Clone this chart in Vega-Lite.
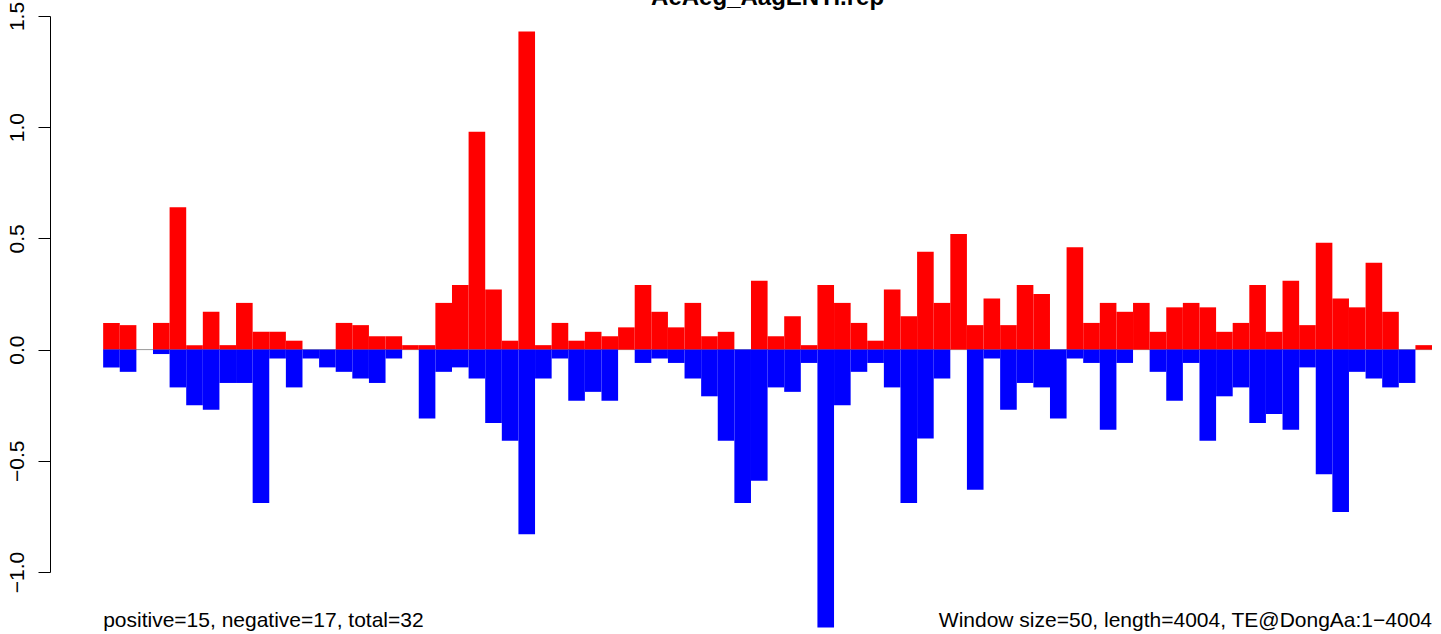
{
  "$schema": "https://vega.github.io/schema/vega-lite/v6.json",
  "autosize": {"type": "none"},
  "padding": {"left": 50, "top": 16, "right": 0, "bottom": 62},
  "width": 1391,
  "height": 556,
  "background": "white",
  "config": {"view": {"stroke": null}},
  "data": {"values": [
    {"start": 0, "end": 50, "pos": 0.12, "neg": -0.08},
    {"start": 50, "end": 100, "pos": 0.11, "neg": -0.10},
    {"start": 100, "end": 150, "pos": 0, "neg": 0},
    {"start": 150, "end": 200, "pos": 0.12, "neg": -0.02},
    {"start": 200, "end": 250, "pos": 0.64, "neg": -0.17},
    {"start": 250, "end": 300, "pos": 0.02, "neg": -0.25},
    {"start": 300, "end": 350, "pos": 0.17, "neg": -0.27},
    {"start": 350, "end": 400, "pos": 0.02, "neg": -0.15},
    {"start": 400, "end": 450, "pos": 0.21, "neg": -0.15},
    {"start": 450, "end": 500, "pos": 0.08, "neg": -0.69},
    {"start": 500, "end": 550, "pos": 0.08, "neg": -0.04},
    {"start": 550, "end": 600, "pos": 0.04, "neg": -0.17},
    {"start": 600, "end": 650, "pos": 0, "neg": -0.04},
    {"start": 650, "end": 700, "pos": 0, "neg": -0.08},
    {"start": 700, "end": 750, "pos": 0.12, "neg": -0.10},
    {"start": 750, "end": 800, "pos": 0.11, "neg": -0.13},
    {"start": 800, "end": 850, "pos": 0.06, "neg": -0.15},
    {"start": 850, "end": 900, "pos": 0.06, "neg": -0.04},
    {"start": 900, "end": 950, "pos": 0.02, "neg": 0},
    {"start": 950, "end": 1000, "pos": 0.02, "neg": -0.31},
    {"start": 1000, "end": 1050, "pos": 0.21, "neg": -0.10},
    {"start": 1050, "end": 1100, "pos": 0.29, "neg": -0.08},
    {"start": 1100, "end": 1150, "pos": 0.98, "neg": -0.13},
    {"start": 1150, "end": 1200, "pos": 0.27, "neg": -0.33},
    {"start": 1200, "end": 1250, "pos": 0.04, "neg": -0.41},
    {"start": 1250, "end": 1300, "pos": 1.43, "neg": -0.83},
    {"start": 1300, "end": 1350, "pos": 0.02, "neg": -0.13},
    {"start": 1350, "end": 1400, "pos": 0.12, "neg": -0.04},
    {"start": 1400, "end": 1450, "pos": 0.04, "neg": -0.23},
    {"start": 1450, "end": 1500, "pos": 0.08, "neg": -0.19},
    {"start": 1500, "end": 1550, "pos": 0.06, "neg": -0.23},
    {"start": 1550, "end": 1600, "pos": 0.10, "neg": 0},
    {"start": 1600, "end": 1650, "pos": 0.29, "neg": -0.06},
    {"start": 1650, "end": 1700, "pos": 0.17, "neg": -0.04},
    {"start": 1700, "end": 1750, "pos": 0.10, "neg": -0.06},
    {"start": 1750, "end": 1800, "pos": 0.21, "neg": -0.13},
    {"start": 1800, "end": 1850, "pos": 0.06, "neg": -0.21},
    {"start": 1850, "end": 1900, "pos": 0.08, "neg": -0.41},
    {"start": 1900, "end": 1950, "pos": 0, "neg": -0.69},
    {"start": 1950, "end": 2000, "pos": 0.31, "neg": -0.59},
    {"start": 2000, "end": 2050, "pos": 0.06, "neg": -0.17},
    {"start": 2050, "end": 2100, "pos": 0.15, "neg": -0.19},
    {"start": 2100, "end": 2150, "pos": 0.02, "neg": -0.06},
    {"start": 2150, "end": 2200, "pos": 0.29, "neg": -1.25},
    {"start": 2200, "end": 2250, "pos": 0.21, "neg": -0.25},
    {"start": 2250, "end": 2300, "pos": 0.12, "neg": -0.10},
    {"start": 2300, "end": 2350, "pos": 0.04, "neg": -0.06},
    {"start": 2350, "end": 2400, "pos": 0.27, "neg": -0.17},
    {"start": 2400, "end": 2450, "pos": 0.15, "neg": -0.69},
    {"start": 2450, "end": 2500, "pos": 0.44, "neg": -0.40},
    {"start": 2500, "end": 2550, "pos": 0.21, "neg": -0.13},
    {"start": 2550, "end": 2600, "pos": 0.52, "neg": 0},
    {"start": 2600, "end": 2650, "pos": 0.11, "neg": -0.63},
    {"start": 2650, "end": 2700, "pos": 0.23, "neg": -0.04},
    {"start": 2700, "end": 2750, "pos": 0.11, "neg": -0.27},
    {"start": 2750, "end": 2800, "pos": 0.29, "neg": -0.15},
    {"start": 2800, "end": 2850, "pos": 0.25, "neg": -0.17},
    {"start": 2850, "end": 2900, "pos": 0, "neg": -0.31},
    {"start": 2900, "end": 2950, "pos": 0.46, "neg": -0.04},
    {"start": 2950, "end": 3000, "pos": 0.12, "neg": -0.06},
    {"start": 3000, "end": 3050, "pos": 0.21, "neg": -0.36},
    {"start": 3050, "end": 3100, "pos": 0.17, "neg": -0.06},
    {"start": 3100, "end": 3150, "pos": 0.21, "neg": 0},
    {"start": 3150, "end": 3200, "pos": 0.08, "neg": -0.10},
    {"start": 3200, "end": 3250, "pos": 0.19, "neg": -0.23},
    {"start": 3250, "end": 3300, "pos": 0.21, "neg": -0.06},
    {"start": 3300, "end": 3350, "pos": 0.19, "neg": -0.41},
    {"start": 3350, "end": 3400, "pos": 0.08, "neg": -0.21},
    {"start": 3400, "end": 3450, "pos": 0.12, "neg": -0.17},
    {"start": 3450, "end": 3500, "pos": 0.29, "neg": -0.33},
    {"start": 3500, "end": 3550, "pos": 0.08, "neg": -0.29},
    {"start": 3550, "end": 3600, "pos": 0.31, "neg": -0.36},
    {"start": 3600, "end": 3650, "pos": 0.11, "neg": -0.08},
    {"start": 3650, "end": 3700, "pos": 0.48, "neg": -0.56},
    {"start": 3700, "end": 3750, "pos": 0.23, "neg": -0.73},
    {"start": 3750, "end": 3800, "pos": 0.19, "neg": -0.10},
    {"start": 3800, "end": 3850, "pos": 0.39, "neg": -0.13},
    {"start": 3850, "end": 3900, "pos": 0.17, "neg": -0.17},
    {"start": 3900, "end": 3950, "pos": 0, "neg": -0.15},
    {"start": 3950, "end": 4000, "pos": 0.02, "neg": 0}
  ]},
  "layer": [
    {
      "mark": {"type": "rule", "color": "#999999", "strokeWidth": 1},
      "encoding": {
        "x": {"aggregate": "min", "field": "start", "type": "quantitative", "scale": {"domain": [-160, 4027], "nice": false, "zero": false, "padding": 0}, "axis": null},
        "x2": {"aggregate": "max", "field": "end"},
        "y": {"datum": 0, "type": "quantitative", "scale": {"domain": [-1, 1.5], "nice": false, "zero": false, "padding": 0},
          "axis": {"orient": "left", "values": [-1, -0.5, 0, 0.5, 1, 1.5], "format": ".1f", "title": null, "grid": false,
            "labelAngle": -90, "labelAlign": "center", "labelBaseline": "alphabetic", "labelPadding": 15,
            "tickSize": 12, "tickColor": "black", "tickWidth": 1, "domainColor": "black", "domainWidth": 1,
            "labelColor": "black", "labelFont": "Liberation Sans", "labelFontSize": 21,
            "labelFlush": false, "labelOverlap": false, "labelBound": false}}
      }
    },
    {
      "mark": {"type": "bar", "color": "#ff0000", "orient": "vertical"},
      "encoding": {
        "x": {"field": "start", "type": "quantitative"},
        "x2": {"field": "end"},
        "y": {"field": "pos", "type": "quantitative"},
        "y2": {"datum": 0}
      }
    },
    {
      "mark": {"type": "bar", "color": "#0000ff", "orient": "vertical"},
      "encoding": {
        "x": {"field": "start", "type": "quantitative"},
        "x2": {"field": "end"},
        "y": {"field": "neg", "type": "quantitative"},
        "y2": {"datum": 0}
      }
    },
    {
      "data": {"values": [{"title": "AeAeg_AagENTi.rep"}]},
      "mark": {"type": "text", "align": "center", "baseline": "alphabetic", "font": "Liberation Sans", "fontSize": 24, "fontWeight": "bold", "color": "black"},
      "encoding": {
        "x": {"datum": 2000, "type": "quantitative"},
        "y": {"datum": 1.55, "type": "quantitative"},
        "text": {"field": "title", "type": "nominal"}
      }
    },
    {
      "mark": {"type": "text", "align": "left", "baseline": "alphabetic", "font": "Liberation Sans", "fontSize": 21, "color": "black"},
      "encoding": {
        "x": {"aggregate": "min", "field": "start", "type": "quantitative"},
        "y": {"datum": -1.247, "type": "quantitative"},
        "text": {"value": "positive=15, negative=17, total=32"}
      }
    },
    {
      "mark": {"type": "text", "align": "right", "baseline": "alphabetic", "font": "Liberation Sans", "fontSize": 21, "color": "black"},
      "encoding": {
        "x": {"aggregate": "max", "field": "end", "type": "quantitative"},
        "y": {"datum": -1.247, "type": "quantitative"},
        "text": {"value": "Window size=50, length=4004, TE@DongAa:1−4004"}
      }
    }
  ]
}
